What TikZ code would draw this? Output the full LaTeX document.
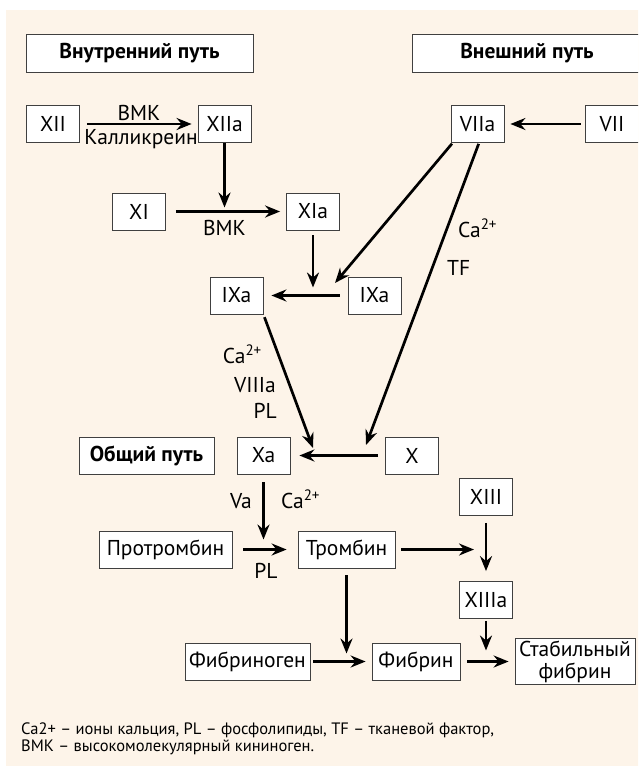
\documentclass[tikz,border=0pt]{standalone}
\usepackage{fontspec}
\setmainfont{PT Sans}
\usetikzlibrary{arrows.meta}
\definecolor{panel}{HTML}{FDF4E9}

\begin{document}
\begin{tikzpicture}[x=1pt,y=-1pt,
  every node/.style={font=\fontsize{21.5}{22}\selectfont},
  box/.style={draw=black!75,fill=white,line width=0.8pt,inner sep=0pt,
    minimum height=37pt,minimum width=53pt},
  head/.style={box,font=\fontsize{21.5}{22}\selectfont\bfseries},
  arr/.style={line width=2.7pt,-{Stealth[length=15pt,width=12pt,inset=5pt]}},
  gap/.style={shorten <=7pt,shorten >=6pt},
  land/.style={shorten >=8pt},
  note/.style={anchor=base west,inner sep=0pt,font=\fontsize{16.5}{17}\selectfont}]
  \useasboundingbox (0,0) rectangle (638,766);
  \clip (0,0) rectangle (638,766);
  \fill[panel] (6,10) rectangle (640,770);

  \node[head,minimum width=227pt,minimum height=38pt] (intr) at (139.5,53) {Внутренний путь};
  \node[head,minimum width=230pt,minimum height=38pt] (extr) at (527,53) {Внешний путь};
  \node[box] (xii) at (53,124) {XII};
  \node[box] (xiia) at (224.5,124) {XIIa};
  \node[box] (viia) at (477.5,124) {VIIa};
  \node[box,minimum width=54pt] (vii) at (612,124) {VII};
  \node[box] (xi) at (139,211.5) {XI};
  \node[box] (xia) at (313,211.5) {XIa};
  \node[box] (ixa) at (236.5,295.5) {IXa};
  \node[box] (ix) at (374.5,295.5) {IXa};
  \node[head,minimum width=135pt] (common) at (146.5,455.5) {Общий путь};
  \node[box] (xa) at (263.5,455.5) {Xa};
  \node[box] (x) at (412,455.5) {X};
  \node[box] (xiii) at (486,497) {XIII};
  \node[box,minimum width=133pt] (proth) at (165.5,549.5) {Протромбин};
  \node[box,minimum width=97pt] (thr) at (346.5,549.5) {Тромбин};
  \node[box] (xiiia) at (486,600) {XIIIa};
  \node[box,minimum width=125pt] (fbg) at (247.5,661.5) {Фибриноген};
  \node[box,minimum width=88pt] (fbn) at (416,661.5) {Фибрин};
  \node[box,minimum width=120pt,minimum height=46pt,align=center] (stab) at (575,661.5) {Стабильный\\фибрин};

  \coordinate (j1) at (xiia |- xi);
  \coordinate (j2) at (xia |- ix);
  \coordinate (t3) at (335,283);
  \coordinate (t4) at (313,448);
  \coordinate (t5) at (366,445);
  \coordinate (j5) at (xa |- proth);
  \coordinate (j6) at (xiii |- thr);
  \coordinate (j7) at (thr |- fbg);
  \coordinate (j8) at (xiiia |- fbn);

  \draw[arr,gap] (xii) -- (xiia);
  \draw[arr,gap,shorten <=4pt] (vii) -- (viia);
  \draw[arr,shorten >=4pt] (xiia) -- (j1);
  \draw[arr,gap,shorten <=10pt] (xi) -- (xia);
  \draw[arr,land,shorten <=5pt] (xia) -- (j2);
  \draw[arr,gap,shorten <=8pt,shorten >=8pt] (ix) -- (ixa);
  \draw[arr,shorten <=1pt] ([xshift=2pt]viia.south west) -- (t3);
  \draw[arr,shorten <=1pt] ([xshift=1.5pt]viia.south) -- (t5);
  \draw[arr,shorten <=3pt] (ixa.south east) -- (t4);
  \draw[arr,gap,shorten >=9pt] (x) -- (xa);
  \draw[arr,shorten <=8pt,shorten >=10pt] (xa) -- (j5);
  \draw[arr,shorten <=11pt,shorten >=11pt] (proth) -- (thr);
  \draw[arr,shorten <=6pt,shorten >=12pt] (thr) -- (j6);
  \draw[arr,shorten <=7pt,shorten >=10pt] (xiii) -- (xiiia);
  \draw[arr,shorten <=7pt,land] (thr) -- (j7);
  \draw[arr,shorten <=2pt,shorten >=11pt] (xiiia) -- (j8);
  \draw[arr,shorten <=3pt,shorten >=6pt] (fbg) -- (fbn);
  \draw[arr,gap] (fbn) -- (stab);

  \node[anchor=base,inner sep=0pt] (bmk1) at (139,120) {ВМК};
  \node[anchor=base,inner sep=0pt] (kall) at (141,144) {Калликреин};
  \node[anchor=base,inner sep=0pt] (bmk2) at (224.5,235) {ВМК};
  \node[anchor=base west,inner sep=0pt] (ca1) at (458,237) {Ca\textsuperscript{2+}};
  \node[anchor=base west,inner sep=0pt] (tf) at (447,275) {TF};
  \node[anchor=base east,inner sep=0pt] (ca2) at (262,363) {Ca\textsuperscript{2+}};
  \node[anchor=base east,inner sep=0pt] (viiia) at (276,392) {VIIIa};
  \node[anchor=base east,inner sep=0pt] (pl1) at (277,418) {PL};
  \node[anchor=base east,inner sep=0pt] (va) at (252,508) {Va};
  \node[anchor=base west,inner sep=0pt] (ca3) at (281,508) {Ca\textsuperscript{2+}};
  \node[anchor=base,inner sep=0pt] (pl2) at (266,578) {PL};

  \node[note] (note1) at (21,734) {Ca2+ – ионы кальция, PL – фосфолипиды, TF – тканевой фактор,};
  \node[note] (note2) at (21,751) {ВМК – высокомолекулярный кининоген.};
\end{tikzpicture}
\end{document}
